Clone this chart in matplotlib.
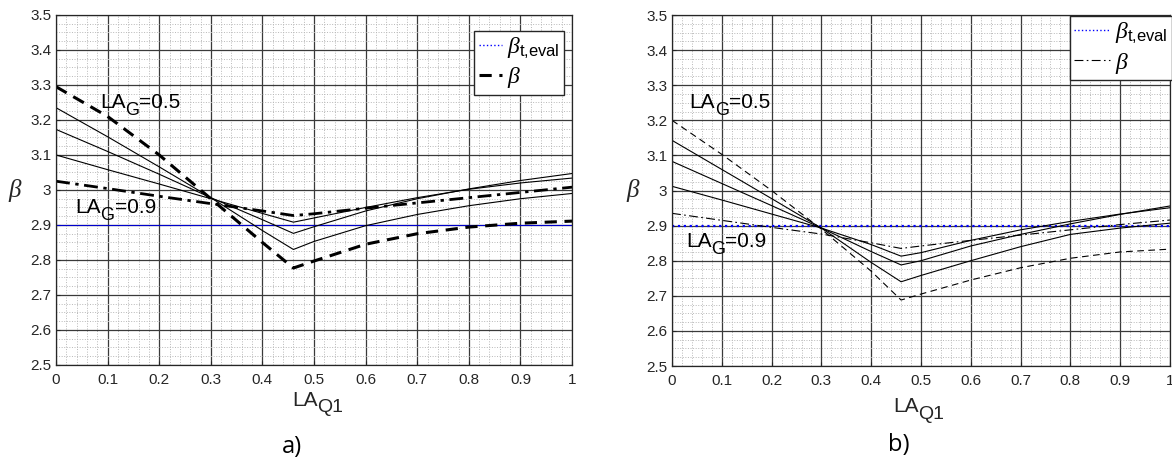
import numpy as np
import matplotlib
matplotlib.use("Agg")
import matplotlib.pyplot as plt
from matplotlib.ticker import MultipleLocator, FormatStrFormatter

plt.rcParams['font.family'] = ['Liberation Sans', 'DejaVu Sans']
plt.rcParams['mathtext.fontset'] = 'custom'
plt.rcParams['mathtext.rm'] = 'Liberation Sans'
plt.rcParams['mathtext.it'] = 'Liberation Serif:italic'

# LA_Q1 values where the curves were read
la_q1 = [0, 0.1, 0.2, 0.3, 0.4, 0.46, 0.5, 0.6, 0.7, 0.8, 0.9, 1.0]
beta_t_eval = 2.9

# panel a)
a_g05 = [3.295, 3.21, 3.10, 2.975, 2.85, 2.777, 2.797, 2.845, 2.875, 2.894, 2.905, 2.911]
a_mid1 = [3.235, 3.152, 3.066, 2.978, 2.884, 2.83, 2.853, 2.898, 2.93, 2.955, 2.975, 2.99]
a_mid2 = [3.173, 3.11, 3.045, 2.978, 2.915, 2.876, 2.895, 2.94, 2.975, 3.003, 3.027, 3.047]
a_mid3 = [3.10, 3.058, 3.017, 2.975, 2.933, 2.908, 2.92, 2.95, 2.978, 3.002, 3.02, 3.034]
a_g09 = [3.025, 3.004, 2.982, 2.961, 2.94, 2.927, 2.932, 2.948, 2.963, 2.978, 2.993, 3.008]

# panel b)
b_g05 = [3.20, 3.103, 3.0, 2.89, 2.77, 2.688, 2.705, 2.745, 2.78, 2.807, 2.825, 2.833]
b_mid1 = [3.143, 3.06, 2.977, 2.893, 2.795, 2.74, 2.758, 2.80, 2.84, 2.875, 2.893, 2.907]
b_mid2 = [3.083, 3.02, 2.957, 2.893, 2.826, 2.788, 2.80, 2.842, 2.875, 2.905, 2.932, 2.956]
b_mid3 = [3.012, 2.973, 2.933, 2.893, 2.846, 2.813, 2.823, 2.858, 2.888, 2.912, 2.933, 2.951]
b_g09 = [2.935, 2.915, 2.895, 2.876, 2.851, 2.835, 2.842, 2.858, 2.873, 2.888, 2.903, 2.916]

TICK_COLOR = '#262626'
LEG_LABELS = [r'$\beta_{\mathrm{t{,}eval}}$', r'$\beta$']


def setup_axes(ax):
    ax.set_xlim(0, 1)
    ax.set_ylim(2.5, 3.5)
    ax.xaxis.set_major_locator(MultipleLocator(0.1))
    ax.yaxis.set_major_locator(MultipleLocator(0.1))
    ax.xaxis.set_minor_locator(MultipleLocator(0.02))
    ax.yaxis.set_minor_locator(MultipleLocator(0.025))
    ax.xaxis.set_major_formatter(FormatStrFormatter('%g'))
    ax.yaxis.set_major_formatter(FormatStrFormatter('%g'))
    ax.grid(which='major', color='#3a3a3a', linestyle='-', linewidth=0.9)
    ax.grid(which='minor', color='#b8b8b8', linestyle=':', linewidth=0.7)
    ax.tick_params(which='both', direction='in', colors=TICK_COLOR, labelsize=11)
    ax.tick_params(which='major', length=3)
    ax.tick_params(axis='x', which='major', pad=6)
    ax.tick_params(which='minor', length=0)
    ax.set_axisbelow(True)
    for s in ax.spines.values():
        s.set_color(TICK_COLOR)
        s.set_linewidth(0.9)


def sub_label(ax, x, y, base, sub, rest='', size=15, subsize=13, coords=None, **kw):
    # MATLAB style subscript: large and set well below the baseline
    if coords is None:
        coords = ax.transData
    t1 = ax.text(x, y, base, fontsize=size, va='center', ha='left', transform=coords, **kw)
    t2 = ax.annotate(sub, xy=(1, 0.08), xycoords=t1, fontsize=subsize, va='center', ha='left', **kw)
    if rest:
        ax.annotate(rest, xy=(1, 0.5), xycoords=(t2, t1), fontsize=size, va='center', ha='left', **kw)
    return t1


fig = plt.figure(figsize=(11.72, 4.63), dpi=100)
ax1 = fig.add_axes([0.0478, 0.2117, 0.4403, 0.756])
ax2 = fig.add_axes([0.5734, 0.2095, 0.4249, 0.758])
setup_axes(ax1)
setup_axes(ax2)

# --- a)
ax1.plot([0, 1], [beta_t_eval, beta_t_eval], color='#0000cc', linewidth=0.8)
ax1.plot(la_q1, a_mid1, color='black', linewidth=0.8)
ax1.plot(la_q1, a_mid2, color='black', linewidth=0.8)
ax1.plot(la_q1, a_mid3, color='black', linewidth=0.8)
h2, = ax1.plot(la_q1, a_g05, color='black', linewidth=2.2, dashes=(4, 2.5))
ax1.plot(la_q1, a_g09, color='black', linewidth=2.0, dashes=(5, 2, 1.2, 2))

leg_h1, = ax1.plot([], [], color='#0000ff', linewidth=1.0, linestyle=':')
ax1.legend([leg_h1, h2], LEG_LABELS, loc='upper right',
           bbox_to_anchor=(0.985, 0.955), borderaxespad=0, fontsize=17, handlelength=1.0,
           handletextpad=0.2, fancybox=False, framealpha=1, edgecolor=TICK_COLOR,
           borderpad=0.2, labelspacing=0.2)

sub_label(ax1, 0.085, 3.25, 'LA', 'G', '=0.5')
sub_label(ax1, 0.037, 2.95, 'LA', 'G', '=0.9')

# --- b)
ax2.plot([0, 1], [beta_t_eval, beta_t_eval], color='#0000ff', linewidth=1.6, linestyle=':')
ax2.plot(la_q1, b_mid1, color='black', linewidth=0.8)
ax2.plot(la_q1, b_mid2, color='black', linewidth=0.8)
ax2.plot(la_q1, b_mid3, color='black', linewidth=0.8)
ax2.plot(la_q1, b_g05, color='black', linewidth=0.8, dashes=(6, 4))
h3, = ax2.plot(la_q1, b_g09, color='black', linewidth=0.8, dashes=(8, 3, 1.5, 3))

leg_h2, = ax2.plot([], [], color='#0000ff', linewidth=1.0, linestyle=':')
ax2.legend([leg_h2, h3], LEG_LABELS, loc='upper right',
           bbox_to_anchor=(1.004, 0.997), borderaxespad=0, fontsize=17, handlelength=1.5,
           handletextpad=0.2, fancybox=False, framealpha=1, edgecolor=TICK_COLOR,
           borderpad=0.2, labelspacing=0.2)

sub_label(ax2, 0.035, 3.25, 'LA', 'G', '=0.5')
sub_label(ax2, 0.028, 2.856, 'LA', 'G', '=0.9')

# axis labels
sub_label(ax1, 292 / 1172, 1 - 400 / 463, 'LA', 'Q1', size=15, subsize=14,
          coords=fig.transFigure, color=TICK_COLOR)
sub_label(ax2, 893 / 1172, 1 - 407 / 463, 'LA', 'Q1', size=15, subsize=14,
          coords=fig.transFigure, color=TICK_COLOR)
fig.text(15 / 1172, 1 - 190 / 463, r'$\beta$', fontsize=18, ha='center', va='center', color=TICK_COLOR)
fig.text(633 / 1172, 1 - 190 / 463, r'$\beta$', fontsize=18, ha='center', va='center', color=TICK_COLOR)

# captions
fig.text(292 / 1172, 1 - 447 / 463, 'a)', fontsize=17, ha='center', va='center', family='Open Sans')
fig.text(899 / 1172, 1 - 445 / 463, 'b)', fontsize=17, ha='center', va='center', family='Open Sans')

fig.savefig('out.png', dpi=100)
